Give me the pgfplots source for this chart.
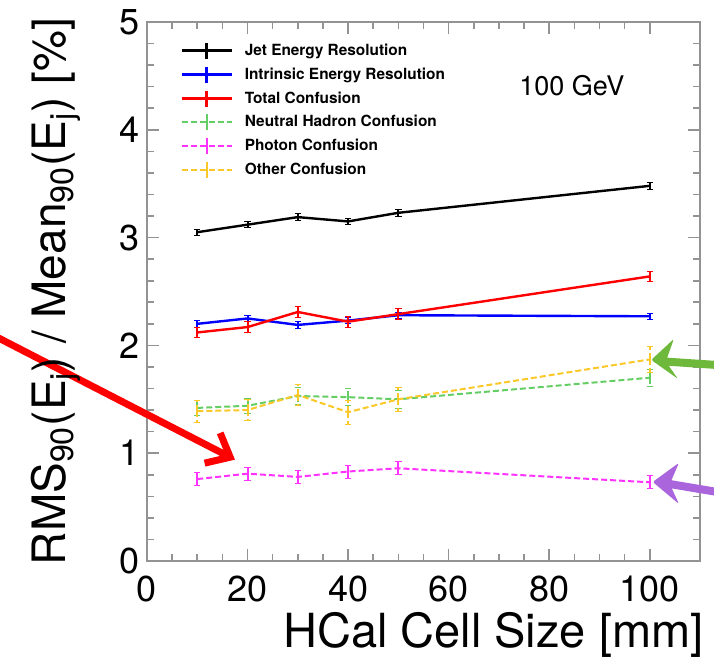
\documentclass[border=0pt]{standalone}
\usepackage{pgfplots}
\pgfplotsset{compat=1.18}
\usepackage{pgfplotstable}
\usepackage{fontspec}
\setmainfont{TeX Gyre Heros}
\usetikzlibrary{arrows.meta}

\definecolor{nhgreen}{RGB}{100,205,100}
\definecolor{othyellow}{RGB}{250,200,40}
\definecolor{photmag}{RGB}{255,50,255}
\definecolor{arrgreen}{RGB}{110,185,60}
\definecolor{arrpurple}{RGB}{170,100,220}

% cell size [mm], value [%], half error
\pgfplotstableread{
x   y     e
10  3.05  0.03
20  3.12  0.03
30  3.19  0.03
40  3.15  0.03
50  3.23  0.03
100 3.48  0.03
}\jet
\pgfplotstableread{
x   y     e
10  2.20  0.03
20  2.25  0.03
30  2.19  0.03
40  2.23  0.03
50  2.28  0.03
100 2.27  0.03
}\intr
\pgfplotstableread{
x   y     e
10  2.12  0.05
20  2.17  0.05
30  2.31  0.05
40  2.22  0.05
50  2.29  0.05
100 2.64  0.05
}\tot
\pgfplotstableread{
x   y     e
10  1.42  0.07
20  1.44  0.07
30  1.53  0.08
40  1.52  0.08
50  1.50  0.08
100 1.70  0.08
}\neut
\pgfplotstableread{
x   y     e
10  0.76  0.06
20  0.81  0.06
30  0.78  0.06
40  0.83  0.06
50  0.86  0.06
100 0.73  0.06
}\phot
\pgfplotstableread{
x   y     e
10  1.39  0.10
20  1.40  0.10
30  1.54  0.10
40  1.38  0.11
50  1.50  0.11
100 1.87  0.12
}\other

\pgfplotsset{
  errs/.style={error bars/.cd, y dir=both, y explicit,
    error bar style={line width=1pt},
    error mark options={rotate=90, mark size=1.6pt, solid}},
}

\begin{document}
\begin{tikzpicture}
\begin{axis}[
  at={(0,0)}, anchor=south west,
  scale only axis, width=276.5pt, height=269.5pt,
  xmin=0, xmax=110, ymin=0, ymax=5,
  xtick={0,20,...,100}, ytick={0,1,...,5},
  minor x tick num=3, minor y tick num=4,
  tick align=inside,
  major tick length=6pt, minor tick length=3.5pt,
  axis line style={gray!85, line width=1pt},
  every tick/.style={gray!85, line width=0.8pt},
  tick label style={font=\fontsize{18}{20}\selectfont},
  xticklabel style={yshift=-4pt},
  /pgf/number format/assume math mode=true,
  xlabel={HCal Cell Size [mm]},
  ylabel={RMS\textsubscript{90}(E\textsubscript{j}) / Mean\textsubscript{90}(E\textsubscript{j}) [\%]},
  every axis x label/.style={at={(axis description cs:1,0)}, anchor=base east,
    yshift=-43.5pt, xshift=2pt, inner sep=0pt, font=\fontsize{23.5}{26}\selectfont},
  every axis y label/.style={at={(axis description cs:-0.1465,0.5)}, rotate=90,
    anchor=base, inner sep=0pt, font=\fontsize{23}{26}\selectfont},
  clip=false,
  legend style={at={(axis description cs:0,1)}, anchor=north west,
    xshift=16.5pt, yshift=-9.5pt, draw=none, fill=none, inner sep=0pt,
    font=\bfseries\fontsize{7.7}{9}\selectfont, column sep=6pt, row sep=2.8pt,
    nodes={inner sep=0pt, text height=6pt, text depth=1.5pt},
    cells={anchor=west}},
  legend image code/.code={
    \draw[#1] (0pt,0pt) -- (25pt,0pt);
    \draw[#1, solid] (12.5pt,-4pt) -- (12.5pt,4pt);
  },
]
\addplot[black, line width=1.2pt, errs] table[x=x, y=y, y error=e] {\jet};
\addlegendentry{Jet Energy Resolution}
\addplot[blue, line width=1.2pt, errs] table[x=x, y=y, y error=e] {\intr};
\addlegendentry{Intrinsic Energy Resolution}
\addplot[red, line width=1.2pt, errs] table[x=x, y=y, y error=e] {\tot};
\addlegendentry{Total Confusion}
\addplot[nhgreen, line width=1pt, dash pattern=on 3pt off 1.5pt, errs] table[x=x, y=y, y error=e] {\neut};
\addlegendentry{Neutral Hadron Confusion}
\addplot[photmag, line width=1pt, dash pattern=on 3pt off 1.5pt, errs] table[x=x, y=y, y error=e] {\phot};
\addlegendentry{Photon Confusion}
\addplot[othyellow, line width=1pt, dash pattern=on 3pt off 1.5pt, errs] table[x=x, y=y, y error=e] {\other};
\addlegendentry{Other Confusion}

\node[anchor=base west, font=\fontsize{13.5}{15}\selectfont, inner sep=0pt] at (axis cs:74,4.32) {100 GeV};

% annotation arrows
\draw[red, line width=3.5pt, -{Straight Barb[length=10pt, width=17pt]}] (axis cs:-30,2.08) -- (axis cs:17.5,0.94);
\draw[arrgreen, line width=4pt] (axis cs:103.2,1.85) -- (axis cs:116,1.81);
\fill[arrgreen, rounded corners=1pt] (axis cs:100.3,1.865) -- (axis cs:104.8,2.06)
  -- (axis cs:103.2,1.85) -- (axis cs:105.6,1.69) -- cycle;
\draw[arrpurple, line width=4pt] (axis cs:104,0.714) -- (axis cs:116,0.62);
\fill[arrpurple, rounded corners=1pt] (axis cs:100.6,0.733) -- (axis cs:105.8,0.91)
  -- (axis cs:104,0.714) -- (axis cs:105.8,0.53) -- cycle;
\end{axis}
\pgfresetboundingbox
\useasboundingbox (-73.5pt,-50.5pt) rectangle (283.5pt,280.5pt);
\end{tikzpicture}
\end{document}
